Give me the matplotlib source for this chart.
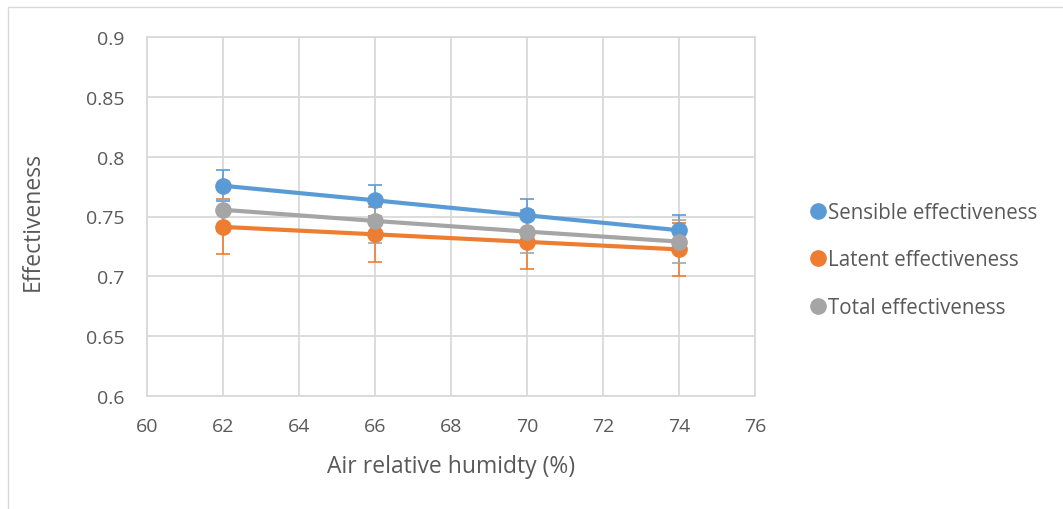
import matplotlib.pyplot as plt
from matplotlib.lines import Line2D
from matplotlib.patches import Rectangle

# data
humidity = [62, 66, 70, 74]
sensible = [0.7757, 0.7635, 0.7510, 0.7385]
latent = [0.7413, 0.7351, 0.7288, 0.7225]
total = [0.7556, 0.7463, 0.7374, 0.7290]
sensible_err = [0.013, 0.013, 0.0135, 0.013]
latent_err = [0.023, 0.023, 0.0225, 0.022]
total_err = [0.018, 0.0185, 0.018, 0.018]

labels = ["Sensible effectiveness", "Latent effectiveness", "Total effectiveness"]
colors = ["#5B9BD5", "#ED7D31", "#A5A5A5"]

plt.rcParams['font.family'] = ['Open Sans', 'DejaVu Sans']
text_col = "#595959"
grid_col = "#d9d9d9"

fig = plt.figure(figsize=(10.63, 5.10), dpi=100)
fig.patches.append(Rectangle((8 / 1063, -0.1), 1.2, 1 - 8 / 510 + 0.1, transform=fig.transFigure,
                             fill=False, edgecolor=grid_col, linewidth=1))
ax = fig.add_axes([147 / 1063, 1 - 397 / 510, (755 - 147) / 1063, (397 - 38) / 510])

series = [(sensible, sensible_err), (latent, latent_err), (total, total_err)]
for (vals, err), col in zip(series, colors):
    ax.errorbar(humidity, vals, yerr=err, fmt='none', ecolor=col, elinewidth=1.2,
                capsize=5, capthick=1.2, zorder=2)
for (vals, err), col in zip(series, colors):
    ax.plot(humidity, vals, color=col, linewidth=3, marker='o', markersize=11,
            zorder=3)

ax.set_xlim(60, 76)
ax.set_ylim(0.6, 0.9)
ax.set_xticks(range(60, 77, 2))
ax.set_yticks([0.6, 0.65, 0.7, 0.75, 0.8, 0.85, 0.9])
ax.set_yticklabels(['0.6', '0.65', '0.7', '0.75', '0.8', '0.85', '0.9'])
ax.grid(True, color=grid_col, linewidth=1.3, zorder=0)
ax.set_axisbelow(True)
for s in ax.spines.values():
    s.set_color(grid_col)
    s.set_linewidth(1.3)
ax.tick_params(length=0, labelsize=14, colors=text_col)
ax.tick_params(axis='x', pad=15)
ax.tick_params(axis='y', pad=16)
ax.set_xlabel("Air relative humidty (%)", fontsize=16.5, color=text_col, va='center')
ax.set_ylabel("Effectiveness", fontsize=16.5, color=text_col, va='center')
ax.xaxis.set_label_coords(0.5, -0.195)
ax.yaxis.set_label_coords(-0.1875, 0.49)

handles = [Line2D([], [], linestyle='none', marker='o', markersize=11, color=c) for c in colors]
fig.legend(handles, labels, loc='center left', bbox_to_anchor=(793 / 1063, 1 - 261 / 510),
           frameon=False, fontsize=14.8, labelcolor=text_col, handlelength=0.6,
           handletextpad=0.2, labelspacing=1.3)

fig.savefig("out.png", dpi=100)
